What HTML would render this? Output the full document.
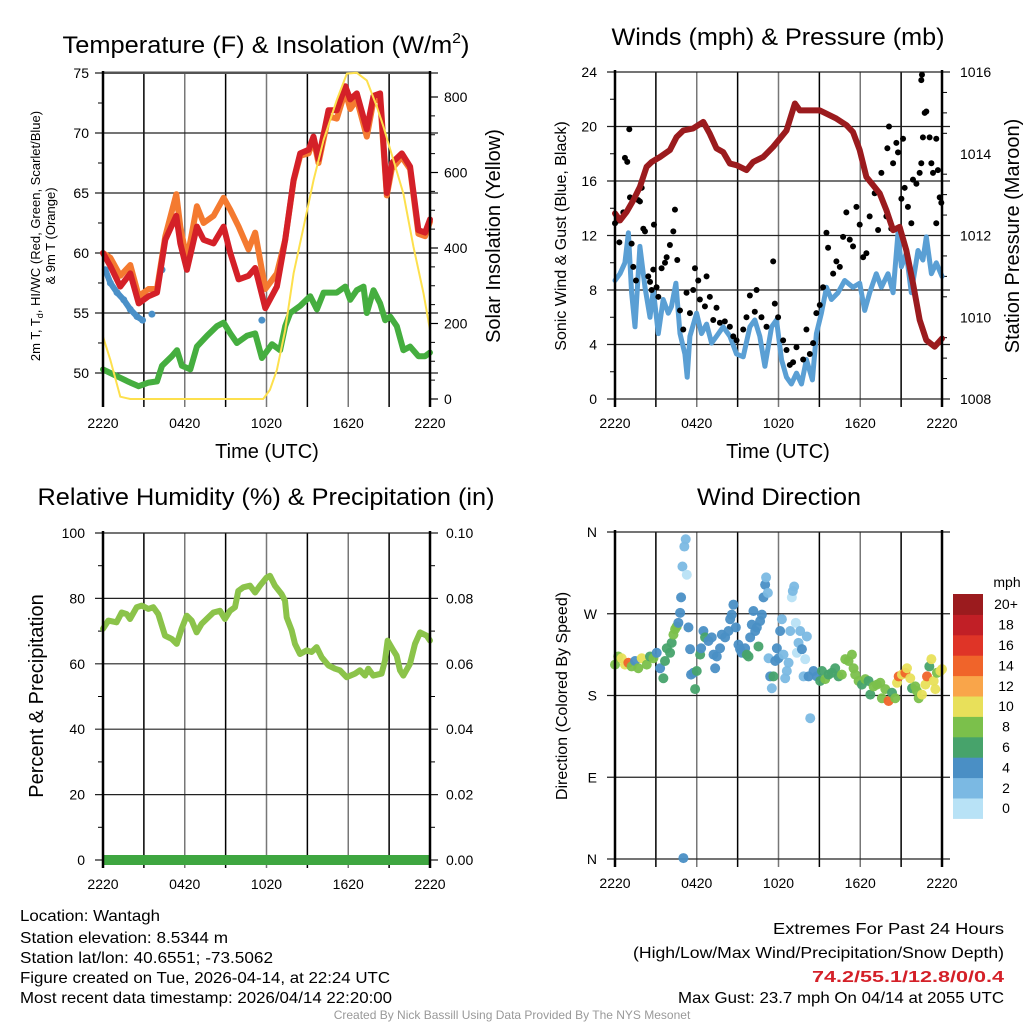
<!DOCTYPE html>
<html><head><meta charset="utf-8"><style>
html,body{margin:0;padding:0;background:#fff;}
svg{display:block;font-family:"Liberation Sans",sans-serif;}
</style></head><body>
<svg id="fig" width="1024" height="1024" viewBox="0 0 1024 1024" xmlns="http://www.w3.org/2000/svg">
<g font-size="24" text-anchor="middle" fill="#000">
<text x="266" y="53" textLength="407" lengthAdjust="spacingAndGlyphs">Temperature (F) &amp; Insolation (W/m<tspan font-size="15" dy="-10">2</tspan><tspan dy="10">)</tspan></text>
<text x="778" y="45" textLength="333" lengthAdjust="spacingAndGlyphs">Winds (mph) &amp; Pressure (mb)</text>
<text x="266" y="505" textLength="457" lengthAdjust="spacingAndGlyphs">Relative Humidity (%) &amp; Precipitation (in)</text>
<text x="779" y="505" textLength="164" lengthAdjust="spacingAndGlyphs">Wind Direction</text>
</g>
<g id="layer"></g>
<g font-size="16" fill="#000">
<text x="20" y="921" textLength="140" lengthAdjust="spacingAndGlyphs">Location: Wantagh</text>
<text x="20" y="943" textLength="208" lengthAdjust="spacingAndGlyphs">Station elevation: 8.5344 m</text>
<text x="20" y="963" textLength="253" lengthAdjust="spacingAndGlyphs">Station lat/lon: 40.6551; -73.5062</text>
<text x="20" y="983" textLength="370" lengthAdjust="spacingAndGlyphs">Figure created on Tue, 2026-04-14, at 22:24 UTC</text>
<text x="20" y="1003" textLength="372" lengthAdjust="spacingAndGlyphs">Most recent data timestamp: 2026/04/14 22:20:00</text>
</g>
<g font-size="16" fill="#000" text-anchor="end">
<text x="1004" y="934" textLength="231" lengthAdjust="spacingAndGlyphs">Extremes For Past 24 Hours</text>
<text x="1004" y="958" textLength="371" lengthAdjust="spacingAndGlyphs">(High/Low/Max Wind/Precipitation/Snow Depth)</text>
<text x="1004" y="982" fill="#d42028" font-weight="bold" textLength="192" lengthAdjust="spacingAndGlyphs">74.2/55.1/12.8/0/0.4</text>
<text x="1004" y="1003" textLength="326" lengthAdjust="spacingAndGlyphs">Max Gust: 23.7 mph On 04/14 at 2055 UTC</text>
</g>
<text x="512" y="1019" font-size="12" fill="#999" text-anchor="middle">Created By Nick Bassill Using Data Provided By The NYS Mesonet</text>
</svg>
<script>
// ---- Temperature panel data ----
const tHours = [0,0.54,1.27,2.0,2.62,3.35,3.96,4.57,5.38,5.67,6.16,6.89,7.38,8.12,8.85,9.34,9.95,10.68,11.17,11.91,12.76,13.37,13.99,14.47,15.09,15.45,15.82,16.55,17.16,17.78,18.14,18.63,19.36,19.85,20.34,20.83,21.2,21.93,22.54,23.15,23.64,24];
const temp2m = [60.0,58.9,57.2,58.3,55.8,56.4,56.7,61.1,63.1,60.8,58.6,62.2,61.1,60.8,62.2,60.0,57.8,58.1,58.75,55.4,57.2,61.1,66.1,68.3,68.6,69.7,67.8,71.9,71.9,73.9,72.8,73.3,70.3,73.1,73.3,65.0,67.5,68.3,67.2,61.9,61.7,62.8];
const temp9m = [60.0,59.6,58.1,59.0,56.4,57.0,57.0,61.4,64.9,62.2,59.4,63.9,62.5,63.1,64.6,63.6,62.2,60.3,61.7,57.0,58.3,61.1,66.0,68.1,68.3,69.5,67.5,71.4,71.2,73.5,72.0,72.8,69.7,72.7,72.8,64.8,67.0,68.0,67.0,61.6,61.4,62.6];
const hiHours = [0.17,0.54,1.03,1.52,2.0,2.5,2.9,3.59,4.33,11.66];
const hiwc = [58.6,57.5,56.7,56.1,55.3,54.7,54.4,54.9,58.6,54.4];
const tdHours = [0,0.54,1.27,2.0,2.62,3.35,3.96,4.33,5.06,5.43,5.79,6.41,6.89,7.63,8.36,8.85,9.34,9.83,10.56,11.17,11.66,12.4,13.0,13.37,13.74,14.47,15.21,15.7,16.19,17.16,17.78,18.14,18.63,19.12,19.36,19.85,20.34,20.71,21.08,21.56,22.05,22.54,23.15,23.64,24];
const dewpt = [50.3,50.0,49.6,49.2,48.9,49.2,49.3,50.6,51.4,51.9,50.6,50.3,52.2,53.1,53.9,54.2,53.3,52.5,53.1,53.3,51.25,52.4,51.9,53.9,55.0,55.6,56.4,55.3,56.7,56.7,57.2,56.1,56.9,57.2,55.0,56.9,55.8,54.4,54.7,53.9,51.9,52.2,51.4,51.4,51.7];
const solHours = [0,0.54,1.27,2,11.76,12.25,12.76,13.37,13.99,14.72,15.45,16.19,17.16,17.9,18.63,19.36,20.1,20.59,21.32,22.05,22.79,23.52,24];
const solar = [165,103,6,0,0,24,77,183,333,456,579,686,792,862,864,844,774,721,632,544,403,280,183];
const tempTicks = [50,55,60,65,70,75];
const solTicks = [0,200,400,600,800];
const xTickLabels = ["2220","0420","1020","1620","2220"];
const xTickHours = [0,6,12,18,24];
// ---- Wind panel data ----
const pHours = [0,0.37,0.86,1.34,1.83,2.32,2.69,3.30,4.03,4.52,5.01,5.74,6.48,6.96,7.45,7.94,8.43,8.92,9.65,10.14,10.88,11.61,12.1,12.59,13.2,13.56,15.03,15.52,16.25,16.98,17.47,17.96,18.45,18.94,19.43,19.92,20.41,20.89,21.38,21.87,22.36,22.85,23.46,24];
const pressure = [1012.54,1012.37,1012.58,1012.86,1013.19,1013.68,1013.80,1013.92,1014.09,1014.41,1014.57,1014.62,1014.78,1014.49,1014.13,1014.04,1013.76,1013.72,1013.60,1013.80,1013.92,1014.17,1014.37,1014.57,1015.23,1015.06,1015.06,1014.98,1014.86,1014.70,1014.53,1014.09,1013.43,1013.23,1013.03,1012.62,1012.13,1012.21,1011.64,1010.83,1009.93,1009.44,1009.28,1009.48];
const wHours = [0,0.37,0.73,0.98,1.22,1.47,1.83,2.2,2.57,2.81,3.18,3.54,3.91,4.15,4.47,4.77,5.13,5.3,5.5,5.99,6.35,6.72,7.09,7.45,7.94,8.43,8.92,9.41,9.9,10.26,10.63,11.0,11.49,11.85,12.22,12.59,12.95,13.32,13.69,14.05,14.49,14.78,15.15,15.52,15.88,16.37,16.86,17.47,17.96,18.33,18.69,19.18,19.55,20.04,20.41,20.77,21.02,21.38,21.75,22.24,22.6,22.85,23.22,23.58,24];
const windSpd = [8.7,9.2,10.0,12.2,7.8,5.3,11.2,8.2,6.0,8.0,4.8,7.3,6.3,6.8,8.5,4.8,3.3,1.6,4.6,6.3,4.8,5.5,4.1,4.6,5.3,4.6,3.3,3.1,5.3,5.8,4.6,2.4,5.3,5.8,2.9,1.6,1.1,1.9,1.1,2.9,1.4,4.8,6.3,8.2,7.3,7.8,8.7,8.2,8.5,6.5,7.8,9.2,8.2,9.2,7.8,12.2,9.7,10.7,7.8,10.9,10.2,11.9,9.2,10.0,9.0];
const gHours = [0,.24,.32,.61,.73,.9,1.05,1.1,1.22,1.34,1.54,1.71,1.83,1.96,2.08,2.2,2.44,2.57,2.69,2.81,2.86,3.05,3.18,3.42,3.67,3.79,4.03,4.28,4.4,4.57,4.77,5.01,5.25,5.5,5.74,5.87,6.11,6.23,6.6,6.72,6.96,7.21,7.45,7.7,8.06,8.43,8.68,8.92,9.41,9.65,9.9,10.26,10.39,10.75,11.12,11.61,11.73,11.97,12.34,12.59,12.83,13.07,13.32,13.81,14.05,14.3,14.54,14.78,15.03,15.27,15.52,15.64,16.01,16.25,16.5,16.74,16.98,17.23,17.47,17.72,17.96,18.21,18.45,18.69,19.06,19.31,19.55,19.92,19.99,20.11,20.28,20.41,20.65,20.77,21.02,21.14,21.26,21.5,21.75,21.87,22.12,22.36,22.48,22.53,22.6,22.73,22.85,23.09,23.22,23.34,23.58,23.7,23.83,23.95,23.58,22.48];
const gust = [12.9,13.1,11.5,13.7,17.7,17.4,19.8,14.8,11.4,9.7,8.7,14.6,14.5,15.5,12.5,12.3,9.0,8.6,8.0,9.5,12.8,8.2,7.5,9.6,10.0,10.4,11.3,12.3,13.9,10.2,6.5,5.1,7.8,6.3,8.0,9.6,8.7,7.3,6.8,9.0,7.5,5.8,6.7,5.6,5.7,5.3,4.6,4.3,5.1,6.0,7.6,6.4,8.0,6.0,5.3,10.1,7.0,6.0,4.3,3.6,2.5,2.7,3.8,2.9,5.1,3.3,4.1,6.3,6.9,8.2,12.2,11.1,9.2,10.1,9.7,11.9,13.7,11.7,11.2,14.1,12.8,10.4,10.7,13.4,15.1,12.4,16.6,13.4,18.4,20.0,12.5,17.3,18.8,18.1,14.7,19.1,15.5,14.1,12.9,16.1,15.8,16.6,23.4,23.8,19.2,21.0,21.1,19.2,17.3,16.6,19.1,16.8,14.8,14.4,12.9,17.3];
const windTicks = [0,4,8,12,16,20,24];
const presTicks = [1008,1010,1012,1014,1016];
// ---- RH panel data ----
const rhHours = [0,.39,1.0,1.37,1.74,1.98,2.47,2.84,3.33,3.69,4.06,4.55,5.04,5.41,5.77,6.14,6.51,6.87,7.24,7.73,8.1,8.59,8.95,9.32,9.69,9.93,10.3,10.79,11.16,11.52,12.01,12.26,12.62,13.11,13.36,13.48,13.85,14.09,14.46,14.95,15.31,15.68,16.05,16.54,17.03,17.39,17.88,18.5,18.86,19.23,19.47,19.84,20.45,20.7,20.89,21.31,21.55,21.8,22.04,22.53,22.9,23.27,23.76,24];
const rh = [70.7,73.2,72.7,75.7,75.2,73.7,77.3,77.8,76.8,77.3,75.2,68.6,67.6,66.1,70.7,74.7,73.2,69.6,72.2,74.2,75.7,76.2,73.7,76.2,77.3,82.3,83.4,83.9,81.8,83.9,86.4,86.9,83.9,81.3,79.3,74.2,70.2,66.1,63.0,64.1,63.6,65.1,62.0,59.5,58.5,58.0,55.9,57.0,58.0,56.4,58.5,56.4,57.0,61.0,67.1,64.1,62.5,58.0,56.4,60.0,66.1,69.6,68.6,67.1];
const precipHours = [0,24];
const precip = [0,0];
const rhTicks = [0,20,40,60,80,100];
const precipTicks = ["0.00","0.02","0.04","0.06","0.08","0.10"];
// ---- Direction panel data ----
const dHours = [0,.24,.49,.73,.98,1.22,1.47,1.71,1.96,2.33,2.57,2.82,3.06,3.31,3.55,3.67,3.8,4.04,4.16,4.29,4.41,4.53,4.65,4.78,4.85,4.95,5.09,5.19,5.27,5.39,5.51,5.58,5.76,5.88,6.0,6.25,6.32,6.49,6.61,6.86,7.1,7.23,7.35,7.47,7.71,7.84,8.08,8.33,8.45,8.57,8.69,8.87,9.06,9.18,9.31,9.55,9.67,9.8,9.92,10.04,10.16,10.29,10.41,10.53,10.65,10.78,10.9,11.02,11.09,11.22,11.27,11.39,11.51,11.63,11.76,11.88,12.0,12.12,12.25,12.37,12.49,12.61,12.74,12.86,12.98,13.05,13.15,13.27,13.35,13.47,13.59,13.72,13.84,13.96,14.08,14.21,14.33,14.57,14.82,15.06,15.19,15.43,15.67,15.92,16.16,16.41,16.65,16.9,17.14,17.39,17.51,17.63,17.88,18.12,18.37,18.61,18.74,18.98,19.23,19.47,19.59,19.84,20.08,20.33,20.57,20.7,20.82,21.06,21.31,21.43,21.67,21.8,22.04,22.16,22.29,22.53,22.78,22.9,23.07,23.22,23.39,23.51,23.63,23.88,24.0,5.02];
const dirDeg = [214,223,221,214,216,212,218,210,221,214,223,221,227,210,199,218,232,227,238,247,253,256,260,271,288,322,344,352,313,255,231,203,205,187,207,225,232,251,244,240,244,225,210,223,232,247,244,251,264,269,280,255,236,231,227,232,225,223,244,258,273,251,255,234,262,269,288,302,310,293,221,201,188,201,218,232,221,251,264,225,199,207,216,251,288,295,300,260,227,238,251,231,201,220,245,201,155,207,201,196,207,198,203,205,210,201,203,220,218,225,210,203,196,192,198,196,181,190,192,194,177,187,174,183,177,194,201,203,205,210,199,188,190,185,177,181,192,201,212,220,196,187,205,207,209,1];
const dirSpd = [8,8,10,10,13,8,4,8,10,8,6,8,4,4,6,6,6,6,6,8,8,8,4,4,4,2,2,2,0.5,4,4,4,4,6,6,6,4,4,6,4,4,4,4,4,4,4,4,4,4,4,4,4,4,4,4,4,6,6,4,4,4,4,4,6,4,4,4,4,2,2,2,4,2,6,4,4,4,4,2,2,2,2,2,2,0.5,2,2,0.5,0.5,2,2,4,2,0.5,2,4,2,4,4,6,6,8,6,6,6,6,8,8,8,8,8,8,8,6,8,6,6,8,8,8,8,8,13,6,8,10,13,10,13,10,10,6,8,8,8,10,10,13,6,10,10,10,8,10,10,4];
const dirTicks = ["N","E","S","W","N"];
const cbLabels = ["0","2","4","6","8","10","12","14","16","18","20+"];
const cbColors = ["#b8e2f6","#7bb9e3","#4a8fc5","#47a36b","#7bc04b","#e8e05a","#f9a54a","#f0642a","#df3427","#c11f26","#9b1b1e"];

const NS = "http://www.w3.org/2000/svg";
const layer = document.getElementById("layer");
function mk(tag, attrs, parent) {
  const e = document.createElementNS(NS, tag);
  for (const k in attrs) e.setAttribute(k, attrs[k]);
  (parent || layer).appendChild(e);
  return e;
}
function txt(str, attrs, parent) { const t = mk("text", attrs, parent); t.textContent = str; return t; }

const P = {
  temp: {x0:103, x1:430, y0:73, y1:399},
  wind: {x0:615, x1:942, y0:72, y1:399},
  rh:   {x0:103, x1:430, y0:533, y1:860},
  dir:  {x0:615, x1:942, y0:532, y1:859}
};
function xs(p, h) { return p.x0 + h * (p.x1 - p.x0) / 24; }
function ys(p, v, lo, hi) { return p.y1 - (v - lo) * (p.y1 - p.y0) / (hi - lo); }

function frame(p, name) {
  const g = mk("g", {});
  
  
  for (let i = 0; i <= 8; i++) {
    const x = p.x0 + i * (p.x1 - p.x0) / 8;
    const l = mk("line", {x1:x, x2:x, y1:p.y0, y2:p.y1 + 8, stroke: i % 2 ? "#000" : "#777", "stroke-width": 1.5}, g);
    
    
  }
  xTickHours.forEach((h, i) => {
    const t = txt(xTickLabels[i], {x: xs(p, h), y: p.y1 + 29, "font-size": 14, "text-anchor": "middle"}, g);
    
    
  });
  return g;
}
function hgrid(p, y, g) {
  const l = mk("line", {x1:p.x0 - 8, x2:p.x1 + 8, y1:y, y2:y, stroke:"#222", "stroke-width":1.2}, g);
  
  
}
function axesBox(p, g) {
  mk("line", {x1:p.x0, x2:p.x0, y1:p.y0 - 2, y2:p.y1 + 8, stroke:"#000", "stroke-width":2.5}, g);
  mk("line", {x1:p.x1, x2:p.x1, y1:p.y0 - 2, y2:p.y1 + 8, stroke:"#000", "stroke-width":2.5}, g);
}
function linePath(p, hs, vs, lo, hi) {
  let d = "", pen = false;
  for (let i = 0; i < hs.length; i++) {
    if (vs[i] === null) { pen = false; continue; }
    d += (pen ? "L" : "M") + xs(p, hs[i]).toFixed(1) + " " + ys(p, vs[i], lo, hi).toFixed(1);
    pen = true;
  }
  return d;
}

// ===== Temperature panel =====
(function(){
  const p = P.temp, lo = 47.83, hi = 75.0;
  const sLo = 0, sHi = 800 * (p.y1 - p.y0) / (399 - 97);
  const g = frame(p, 'temp');
  mk("rect", {x:p.x0, y:p.y0 - 2, width:p.x1 - p.x0, height:3, fill:"#aaa"}, g);
  tempTicks.forEach(v => {
    const y = ys(p, v, lo, hi);
    hgrid(p, y, g);
    const t = txt(String(v), {x: p.x0 - 14, y: y + 5, "font-size": 14, "text-anchor": "end"}, g);
    
    
  });
  for (let v = 47.5; v < 75; v += 2.5) { if (v % 5 && v > lo) { const y = ys(p, v, lo, hi); mk("line", {x1:p.x0 - 5, x2:p.x0, y1:y, y2:y, stroke:"#000"}, g); } }
  solTicks.forEach(v => {
    const y = ys(p, v, sLo, sHi);
    mk("line", {x1:p.x1, x2:p.x1 + 8, y1:y, y2:y, stroke:"#000", "stroke-width":1.2}, g);
    const t = txt(String(v), {x: p.x1 + 14, y: y + 5, "font-size": 14}, g);
    
    
  });
  for (let v = 50; v < 850; v += 50) { if (v % 200) { const y = ys(p, v, sLo, sHi); mk("line", {x1:p.x1, x2:p.x1 + 5, y1:y, y2:y, stroke:"#000"}, g); } }
  const series = [
    ['temp-9m-line', tHours, temp9m, "#f47a30", 6, lo, hi],
    ['hi-wc-line', hiHours, hiwc, "#4a90c8", 6, lo, hi],
    ['temp-2m-line', tHours, temp2m, "#d42028", 6, lo, hi],
    ['dewpoint-line', tdHours, dewpt, "#45ae3f", 6, lo, hi],
    ['solar-line', solHours, solar, "#fde04d", 2, sLo, sHi]
  ];
  series.forEach(s => {
    if (s[0] === 'hi-wc-line') {
      const hs = s[1], vs = s[2];
      for (let i = 0; i < hs.length; i++) {
        const c = mk("circle", {cx: xs(p, hs[i]), cy: ys(p, vs[i], lo, hi), r: 3.5, fill: s[3]}, g);
        
        
        if (i < 6) mk("line", {x1: xs(p, hs[i]), y1: ys(p, vs[i], lo, hi), x2: xs(p, hs[i+1]), y2: ys(p, vs[i+1], lo, hi), stroke: s[3], "stroke-width": 6, "stroke-linecap":"round"}, g);
      }
      return;
    }
    const path = mk("path", {d: linePath(p, s[1], s[2], s[5], s[6]), fill:"none", stroke:s[3], "stroke-width":s[4], "stroke-linejoin":"round", "stroke-linecap":"round"}, g);
    
    
  });
  axesBox(p, g);
  const yl = txt("", {transform:"translate(40,236) rotate(-90)", "font-size":13, "text-anchor":"middle"}, g);
  yl.innerHTML = '2m T, T<tspan font-size="9" dy="3">d</tspan><tspan dy="-3">, HI/WC (Red, Green, Scarlet/Blue)</tspan>';
  
  
  const yl2 = txt("& 9m T (Orange)", {transform:"translate(55,236) rotate(-90)", "font-size":13, "text-anchor":"middle"}, g);
  
  
  const yr = txt("Solar Insolation (Yellow)", {transform:"translate(500,236) rotate(-90)", "font-size":20, "text-anchor":"middle"}, g);
  
  
  const xt = txt("Time (UTC)", {x:267, y:458, "font-size":20, "text-anchor":"middle"}, g);
  
  
})();

// ===== Wind panel =====
(function(){
  const p = P.wind;
  const g = frame(p, 'wind');
  windTicks.forEach(v => {
    const y = ys(p, v, 0, 24);
    hgrid(p, y, g);
    const t = txt(String(v), {x: p.x0 - 18, y: y + 5, "font-size": 14, "text-anchor": "end"}, g);
    
    
  });
  presTicks.forEach(v => {
    const y = ys(p, v, 1008, 1016);
    const t = txt(String(v), {x: p.x1 + 18, y: y + 5, "font-size": 14}, g);
    
    
  });
  for (let v = 1008.5; v < 1016; v += 0.5) { if (v % 2) { const y = ys(p, v, 1008, 1016); mk("line", {x1:p.x1, x2:p.x1 + 5, y1:y, y2:y, stroke:"#000"}, g); } }
  for (let v = 2; v < 24; v += 4) { const y = ys(p, v, 0, 24); mk("line", {x1:p.x0 - 5, x2:p.x0, y1:y, y2:y, stroke:"#000"}, g); }
  const w = mk("path", {d: linePath(p, wHours, windSpd, 0, 24), fill:"none", stroke:"#5a9fd4", "stroke-width":5, "stroke-linejoin":"round", "stroke-linecap":"round"}, g);
  
  
  for (let i = 0; i < gHours.length; i++) {
    const c = mk("circle", {cx: xs(p, gHours[i]), cy: ys(p, gust[i], 0, 24), r: 3, fill: "#000"}, g);
    
    
  }
  const pr = mk("path", {d: linePath(p, pHours, pressure, 1008, 1016), fill:"none", stroke:"#9b1b1e", "stroke-width":6, "stroke-linejoin":"round", "stroke-linecap":"round"}, g);
  
  
  axesBox(p, g);
  const yl = txt("Sonic Wind & Gust (Blue, Black)", {transform:"translate(566,236) rotate(-90)", "font-size":16, "text-anchor":"middle"}, g);
  
  
  const yr = txt("Station Pressure (Maroon)", {transform:"translate(1019,236) rotate(-90)", "font-size":20, "text-anchor":"middle"}, g);
  
  
  const xt = txt("Time (UTC)", {x:778, y:458, "font-size":20, "text-anchor":"middle"}, g);
  
  
})();

// ===== RH panel =====
(function(){
  const p = P.rh;
  const g = frame(p, 'rh');
  rhTicks.forEach((v, i) => {
    const y = ys(p, v, 0, 100);
    hgrid(p, y, g);
    const t = txt(String(v), {x: p.x0 - 18, y: y + 5, "font-size": 14, "text-anchor": "end"}, g);
    
    
    const t2 = txt(precipTicks[i], {x: p.x1 + 16, y: y + 5, "font-size": 14}, g);
    
    
  });
  for (let v = 10; v < 100; v += 20) { const y = ys(p, v, 0, 100); mk("line", {x1:p.x0 - 5, x2:p.x0, y1:y, y2:y, stroke:"#000"}, g); mk("line", {x1:p.x1, x2:p.x1 + 5, y1:y, y2:y, stroke:"#000"}, g); }
  const r = mk("path", {d: linePath(p, rhHours, rh, 0, 100), fill:"none", stroke:"#8bc34a", "stroke-width":6, "stroke-linejoin":"round", "stroke-linecap":"round"}, g);
  
  
  const pc = mk("path", {d: linePath(p, precipHours, precip, 0, 0.1), fill:"none", stroke:"#3ea640", "stroke-width":10}, g);
  
  
  axesBox(p, g);
  const yl = txt("Percent & Precipitation", {transform:"translate(43,696) rotate(-90)", "font-size":20, "text-anchor":"middle"}, g);
  
  
})();

// ===== Direction panel =====
(function(){
  const p = P.dir;
  const g = frame(p, 'dir');
  dirTicks.forEach((lab, i) => {
    const y = ys(p, i * 90, 0, 360);
    hgrid(p, y, g);
    const t = txt(lab, {x: p.x0 - 18, y: y + 5, "font-size": 14, "text-anchor": "end"}, g);
    
    
  });
  function col(s) { return cbColors[Math.min(10, Math.round(s / 2))]; }
  for (let i = 0; i < dHours.length; i++) {
    const c = mk("circle", {cx: xs(p, dHours[i]), cy: ys(p, dirDeg[i], 0, 360), r: 5, fill: col(dirSpd[i]), "fill-opacity":0.95}, g);
    
    
  }
  axesBox(p, g);
  const yl = txt("Direction (Colored By Speed)", {transform:"translate(567,696) rotate(-90)", "font-size":16, "text-anchor":"middle"}, g);
  
  
  const cb = mk("g", {}, g);
  
  
  const top = 594, h = 20.4;
  cbColors.forEach((c, i) => {
    const yy = top + (10 - i) * h;
    const r = mk("rect", {x:953, y:yy, width:30, height:h + 0.5, fill:c}, cb);
    
    
    const t = txt(cbLabels[i], {x:1006, y:yy + h / 2 + 5, "font-size":14, "text-anchor":"middle"}, cb);
    
    
  });
  const u = txt("mph", {x:1007, y:587, "font-size":14, "text-anchor":"middle"}, cb);
  
  
})();
</script>
</body></html>
